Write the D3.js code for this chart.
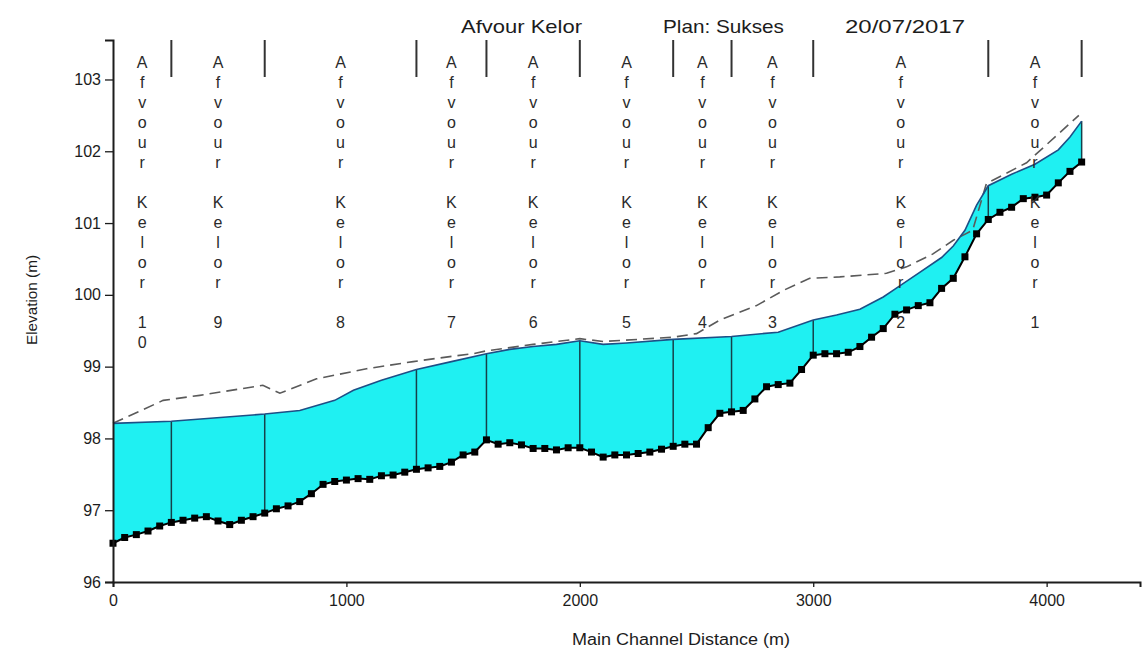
<!DOCTYPE html>
<html>
<head>
<meta charset="utf-8">
<script src="https://cdn.jsdelivr.net/npm/d3@7"></script>
<style>
  body { margin: 0; background: #fff; }
  svg { display: block; font-family: Arial, "Liberation Sans", sans-serif; }
</style>
</head>
<body>
<svg id="chart" width="1144" height="652"></svg>
<script>
// channel bed (cross sections every 50 m)
const bedStation = [0, 50, 100, 150, 200, 250, 300, 350, 400, 450, 500, 550, 600, 650, 700, 750, 800, 850, 900, 950,
  1000, 1050, 1100, 1150, 1200, 1250, 1300, 1350, 1400, 1450, 1500, 1550, 1600, 1650, 1700, 1750, 1800, 1850, 1900, 1950,
  2000, 2050, 2100, 2150, 2200, 2250, 2300, 2350, 2400, 2450, 2500, 2550, 2600, 2650, 2700, 2750, 2800, 2850, 2900, 2950,
  3000, 3050, 3100, 3150, 3200, 3250, 3300, 3350, 3400, 3450, 3500, 3550, 3600, 3650, 3700, 3750, 3800, 3850, 3900, 3950,
  4000, 4050, 4100, 4150];
const bedElev = [96.54, 96.62, 96.66, 96.71, 96.78, 96.83, 96.86, 96.89, 96.91, 96.85, 96.80, 96.86, 96.91, 96.96, 97.02, 97.06, 97.12, 97.23, 97.36, 97.40,
  97.42, 97.44, 97.43, 97.48, 97.49, 97.53, 97.57, 97.59, 97.61, 97.67, 97.77, 97.81, 97.98, 97.92, 97.94, 97.91, 97.86, 97.86, 97.84, 97.87,
  97.87, 97.81, 97.74, 97.77, 97.77, 97.79, 97.81, 97.85, 97.89, 97.92, 97.92, 98.15, 98.35, 98.37, 98.39, 98.55, 98.72, 98.75, 98.77, 98.96,
  99.16, 99.18, 99.18, 99.20, 99.28, 99.41, 99.53, 99.73, 99.79, 99.85, 99.89, 100.09, 100.23, 100.53, 100.85, 101.05, 101.15, 101.22, 101.34, 101.36,
  101.39, 101.56, 101.72, 101.85];

// water surface
const wsStation = [0, 250, 650, 800, 950, 1030, 1150, 1300, 1450, 1600, 1700, 1800, 1900, 2000, 2100, 2200, 2400, 2650, 2850,
  3000, 3100, 3200, 3300, 3350, 3450, 3550, 3600, 3650, 3700, 3750, 3850, 3950, 4050, 4100, 4150];
const wsElev = [98.21, 98.24, 98.34, 98.39, 98.53, 98.67, 98.81, 98.96, 99.07, 99.18, 99.24, 99.28, 99.31, 99.36, 99.31, 99.33, 99.38, 99.42, 99.48,
  99.65, 99.72, 99.80, 99.97, 100.08, 100.30, 100.52, 100.68, 100.90, 101.25, 101.52, 101.68, 101.82, 102.02, 102.20, 102.42];

// energy grade line
const egStation = [0, 215, 372, 642, 715, 872, 1086, 1286, 1443, 1542, 1600, 1800, 2000, 2100, 2400, 2500, 2600, 2757, 2871, 2985,
  3114, 3314, 3400, 3513, 3600, 3683, 3742, 3914, 4138];
const egElev = [98.21, 98.53, 98.60, 98.74, 98.63, 98.83, 98.97, 99.07, 99.14, 99.18, 99.22, 99.31, 99.39, 99.35, 99.41, 99.46, 99.65, 99.85, 100.06, 100.23,
  100.25, 100.30, 100.39, 100.57, 100.76, 100.90, 101.55, 101.84, 102.50];

// reaches
const reachBounds = [0, 250, 650, 1300, 1600, 2000, 2400, 2650, 3000, 3750, 4150];
const reachNames = ["10", "9", "8", "7", "6", "5", "4", "3", "2", "1"];
const riverName = "Afvour";
const reachPrefix = "Kelor";

const titleParts = ["Afvour Kelor", "Plan: Sukses", "20/07/2017"];
const yTicks = [96, 97, 98, 99, 100, 101, 102, 103];
const xTicks = [0, 1000, 2000, 3000, 4000];

const svg = d3.select("#chart");
const margin = { left: 113, right: 4, top: 40, bottom: 70 };
const width = 1144, height = 652;
const ink = "#1c1c1c";

const x = d3.scaleLinear().domain([0, 4400]).range([margin.left, width - margin.right]);
const y = d3.scaleLinear().domain([96, 103.55]).range([height - margin.bottom, margin.top]);

const wsAt = d3.scaleLinear().domain(wsStation).range(wsElev);
const bedAt = d3.scaleLinear().domain(bedStation).range(bedElev);

const bed = bedStation.map((d, i) => [d, bedElev[i]]);
const ws = wsStation.map((d, i) => [d, wsElev[i]]);
const eg = egStation.map((d, i) => [d, egElev[i]]);

const line = d3.line().x(d => x(d[0])).y(d => y(d[1]));

// water body
svg.append("path")
  .attr("d", line(ws.concat(bed.slice().reverse())) + "Z")
  .attr("fill", "#1ff0f2")
  .attr("stroke", "none");

// section lines inside the water
svg.append("g").selectAll("line")
  .data(reachBounds.slice(1))
  .enter().append("line")
  .attr("x1", d => x(d)).attr("x2", d => x(d))
  .attr("y1", d => y(bedAt(d))).attr("y2", d => y(wsAt(d)))
  .attr("stroke", "#16404a")
  .attr("stroke-width", 1.5);

// energy grade (dashed)
svg.append("path")
  .attr("d", line(eg))
  .attr("fill", "none")
  .attr("stroke", "#5a5a5a")
  .attr("stroke-width", 1.6)
  .attr("stroke-dasharray", "11,6");

// water surface
svg.append("path")
  .attr("d", line(ws))
  .attr("fill", "none")
  .attr("stroke", "#1d4f86")
  .attr("stroke-width", 1.6);

// bed
svg.append("path")
  .attr("d", line(bed))
  .attr("fill", "none")
  .attr("stroke", "#000")
  .attr("stroke-width", 2);

svg.append("g").selectAll("rect")
  .data(bed)
  .enter().append("rect")
  .attr("x", d => x(d[0]) - 3.5)
  .attr("y", d => y(d[1]) - 3.5)
  .attr("width", 7).attr("height", 7)
  .attr("fill", "#000");

// axes
const yAxis = svg.append("g").attr("transform", "translate(" + margin.left + ",0)");
yAxis.call(d3.axisLeft(y).tickValues(d3.range(96, 103.55, 0.2)).tickSize(5).tickFormat(""));
yAxis.call(d3.axisLeft(y).tickValues(yTicks).tickSize(8).tickPadding(4).tickFormat(d3.format("d")));
yAxis.selectAll(".domain").attr("stroke", ink).attr("stroke-width", 2);
yAxis.selectAll("line").attr("stroke", ink).attr("stroke-width", 1.3);
yAxis.selectAll("text").attr("font-size", 16).attr("fill", ink).attr("font-family", "Arial, 'Liberation Sans', sans-serif");

const xAxis = svg.append("g").attr("transform", "translate(0," + y(96) + ")");
xAxis.call(d3.axisBottom(x).tickValues(d3.range(0, 4401, 200)).tickSize(5).tickFormat(""));
xAxis.call(d3.axisBottom(x).tickValues(xTicks).tickSize(5).tickPadding(8).tickFormat(d3.format("d")));
xAxis.selectAll(".domain").attr("stroke", ink).attr("stroke-width", 2);
xAxis.selectAll("line").attr("stroke", ink).attr("stroke-width", 1.3);
xAxis.selectAll("text").attr("font-size", 16).attr("fill", ink).attr("font-family", "Arial, 'Liberation Sans', sans-serif");

// reach boundary marks at the top
svg.append("g").selectAll("line")
  .data(reachBounds.slice(1))
  .enter().append("line")
  .attr("x1", d => x(d)).attr("x2", d => x(d))
  .attr("y1", margin.top).attr("y2", margin.top + 37)
  .attr("stroke", "#333")
  .attr("stroke-width", 2);

// stacked reach labels
const reaches = reachNames.map((n, i) => ({
  mid: (reachBounds[i] + reachBounds[i + 1]) / 2,
  chars: riverName.split("").concat([""], reachPrefix.split(""), [""], n.split(""))
}));

const lab = svg.append("g").attr("font-size", 16).attr("fill", "#2a2a2a").attr("text-anchor", "middle");
reaches.forEach(r => {
  lab.append("g").selectAll("text")
    .data(r.chars)
    .enter().append("text")
    .attr("x", x(r.mid))
    .attr("y", (d, i) => 68 + i * 20)
    .text(d => d);
});

// title
const titleX = [461, 663, 845];
const titleW = [121, 121, 120];
svg.append("g").selectAll("text")
  .data(titleParts)
  .enter().append("text")
  .attr("x", (d, i) => titleX[i])
  .attr("y", 33)
  .attr("font-size", 19)
  .attr("textLength", (d, i) => titleW[i])
  .attr("lengthAdjust", "spacingAndGlyphs")
  .attr("fill", ink)
  .text(d => d);

// axis titles
svg.append("text")
  .attr("x", 681).attr("y", 645)
  .attr("text-anchor", "middle")
  .attr("font-size", 16)
  .attr("textLength", 218)
  .attr("lengthAdjust", "spacingAndGlyphs")
  .attr("fill", ink)
  .text("Main Channel Distance (m)");

svg.append("text")
  .attr("transform", "translate(37,300) rotate(-90)")
  .attr("text-anchor", "middle")
  .attr("font-size", 15)
  .attr("textLength", 90)
  .attr("lengthAdjust", "spacingAndGlyphs")
  .attr("fill", ink)
  .text("Elevation (m)");
</script>
</body>
</html>
